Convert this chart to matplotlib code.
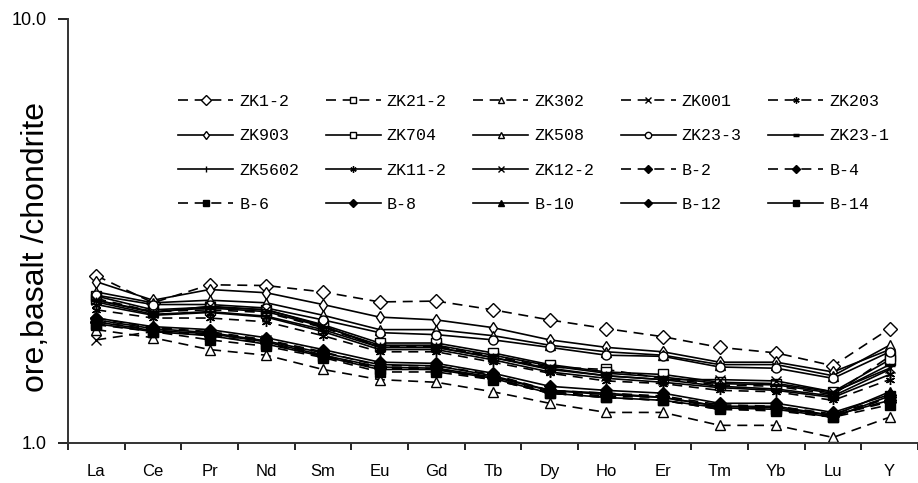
import numpy as np
import matplotlib
matplotlib.use("Agg")
import matplotlib.pyplot as plt

# ---------------------------------------------------------------------------
# Data: chondrite-normalised REE + Y
# ---------------------------------------------------------------------------
elements = ["La", "Ce", "Pr", "Nd", "Sm", "Eu", "Gd", "Tb", "Dy", "Ho",
            "Er", "Tm", "Yb", "Lu", "Y"]

zk1_2 = [2.48, 2.14, 2.36, 2.35, 2.27, 2.15, 2.16, 2.06, 1.95, 1.86, 1.78, 1.68, 1.63, 1.52, 1.86]
zk21_2 = [2.19, 2.04, 2.06, 2.03, 1.87, 1.69, 1.69, 1.60, 1.51, 1.49, 1.42, 1.37, 1.36, 1.30, 1.60]
zk302 = [1.85, 1.77, 1.66, 1.61, 1.49, 1.41, 1.39, 1.32, 1.24, 1.18, 1.18, 1.10, 1.10, 1.03, 1.15]
zk001 = [1.75, 1.83, 1.80, 1.75, 1.61, 1.50, 1.49, 1.41, 1.31, 1.28, 1.26, 1.20, 1.20, 1.15, 1.28]
zk203 = [2.06, 1.97, 1.97, 1.93, 1.79, 1.64, 1.64, 1.55, 1.46, 1.40, 1.38, 1.33, 1.32, 1.26, 1.41]
zk903 = [2.40, 2.17, 2.30, 2.26, 2.12, 1.98, 1.95, 1.87, 1.75, 1.68, 1.64, 1.55, 1.55, 1.47, 1.66]
zk704 = [2.22, 2.06, 2.09, 2.06, 1.90, 1.72, 1.72, 1.63, 1.53, 1.47, 1.45, 1.39, 1.38, 1.32, 1.57]
zk508 = [2.27, 2.14, 2.17, 2.14, 2.00, 1.85, 1.85, 1.79, 1.70, 1.64, 1.61, 1.53, 1.53, 1.44, 1.70]
zk23_3 = [2.23, 2.12, 2.12, 2.08, 1.95, 1.82, 1.80, 1.75, 1.68, 1.61, 1.60, 1.51, 1.50, 1.42, 1.64]
zk23_1 = [2.17, 2.04, 2.08, 2.04, 1.88, 1.70, 1.70, 1.61, 1.52, 1.46, 1.43, 1.38, 1.37, 1.31, 1.53]
zk5602 = [2.15, 2.01, 2.04, 1.99, 1.85, 1.68, 1.68, 1.59, 1.49, 1.44, 1.41, 1.36, 1.34, 1.29, 1.49]
zk11_2 = [2.12, 2.00, 2.03, 1.98, 1.83, 1.66, 1.66, 1.57, 1.47, 1.42, 1.39, 1.35, 1.33, 1.28, 1.45]
zk12_2 = [2.17, 2.03, 2.10, 2.06, 1.89, 1.68, 1.68, 1.59, 1.50, 1.44, 1.41, 1.41, 1.40, 1.32, 1.50]
b2 = [1.97, 1.87, 1.83, 1.75, 1.64, 1.52, 1.52, 1.45, 1.33, 1.31, 1.29, 1.23, 1.22, 1.17, 1.28]
b4 = [1.93, 1.85, 1.79, 1.72, 1.60, 1.50, 1.50, 1.42, 1.32, 1.29, 1.28, 1.21, 1.21, 1.16, 1.25]
b6 = [1.90, 1.83, 1.75, 1.69, 1.59, 1.47, 1.47, 1.41, 1.31, 1.28, 1.26, 1.20, 1.19, 1.15, 1.23]
b8 = [1.97, 1.88, 1.85, 1.77, 1.66, 1.55, 1.54, 1.46, 1.36, 1.33, 1.31, 1.24, 1.24, 1.18, 1.30]
b10 = [1.95, 1.86, 1.82, 1.74, 1.63, 1.53, 1.52, 1.44, 1.33, 1.31, 1.28, 1.22, 1.22, 1.16, 1.32]
b12 = [1.93, 1.84, 1.81, 1.73, 1.61, 1.51, 1.50, 1.43, 1.33, 1.30, 1.28, 1.22, 1.21, 1.16, 1.26]
b14 = [1.91, 1.83, 1.79, 1.71, 1.60, 1.49, 1.49, 1.42, 1.31, 1.28, 1.26, 1.21, 1.20, 1.15, 1.29]

# (label, values, dashed?, marker, filled?)
series = [
    ("ZK1-2", zk1_2, True, "D", False),
    ("ZK21-2", zk21_2, True, "s", False),
    ("ZK302", zk302, True, "^", False),
    ("ZK001", zk001, True, "x", False),
    ("ZK203", zk203, True, (6, 2, 0), False),
    ("ZK903", zk903, False, "d", False),
    ("ZK704", zk704, False, "s", False),
    ("ZK508", zk508, False, "^", False),
    ("ZK23-3", zk23_3, False, "o", False),
    ("ZK23-1", zk23_1, False, "_", True),
    ("ZK5602", zk5602, False, "|", True),
    ("ZK11-2", zk11_2, False, (6, 2, 0), True),
    ("ZK12-2", zk12_2, False, "x", True),
    ("B-2", b2, True, "D", True),
    ("B-4", b4, True, "D", True),
    ("B-6", b6, True, "s", True),
    ("B-8", b8, False, "D", True),
    ("B-10", b10, False, "^", True),
    ("B-12", b12, False, "D", True),
    ("B-14", b14, False, "s", True),
]

# ---------------------------------------------------------------------------
# Plot
# ---------------------------------------------------------------------------
plt.rcParams["font.family"] = ["Liberation Sans", "DejaVu Sans"]

fig = plt.figure(figsize=(9.18, 4.83), dpi=100)
ax = fig.add_axes([0.074, 0.083, 0.926, 0.878])

x = np.arange(len(elements))
handles = []
for label, vals, dashed, marker, filled in series:
    size = 7.5 if label == "ZK1-2" else 6.5
    if marker in ("_", "|"):
        size = 7
    line, = ax.plot(x, vals, color="black", lw=1.2, marker=marker, markersize=size,
                    markerfacecolor="black" if filled else "white",
                    markeredgecolor="black", markeredgewidth=2.5 if marker == "_" else 1.0,
                    label=label)
    if dashed:
        line.set_dashes((6, 4))
    handles.append(line)

ax.set_yscale("log")
ax.set_ylim(1.0, 10.0)
ax.set_xlim(-0.5, len(elements) - 0.5)

ax.set_yticks([1.0, 10.0])
ax.set_yticklabels(["1.0", "10.0"])
ax.yaxis.set_minor_locator(matplotlib.ticker.NullLocator())
ax.tick_params(axis="y", which="major", direction="out", length=7, width=1.2,
               labelsize=13, pad=8)

ax.set_xticks(x)
ax.set_xticklabels(elements)
ax.set_xticks(np.arange(-0.5, len(elements)), minor=True)
ax.tick_params(axis="x", which="major", length=0, labelsize=12, pad=15)
ax.tick_params(axis="x", which="minor", direction="out", length=5, width=1.2)

for side in ["top", "right"]:
    ax.spines[side].set_visible(False)
for side in ["left", "bottom"]:
    ax.spines[side].set_linewidth(1.4)
    ax.spines[side].set_color("#333333")

fig.text(36 / 918, 1 - 247 / 483, "ore,basalt /chondrite", rotation=90,
         ha="center", va="center", fontsize=23)

# legend is filled column by column, so reorder to read row by row
ncol, nrow = 5, 4
order = [r * ncol + c for c in range(ncol) for r in range(nrow)]
leg = ax.legend([handles[i] for i in order], [series[i][0] for i in order],
                ncol=ncol, loc="upper left", bbox_to_anchor=(170 / 918, 1 - 86 / 483),
                bbox_transform=fig.transFigure, frameon=False,
                prop={"family": "Liberation Mono", "size": 12},
                handlelength=3.3, handletextpad=0.35, columnspacing=1.6,
                labelspacing=1.15, borderpad=0, markerscale=0.7)

plt.savefig("out.png", dpi=100)
